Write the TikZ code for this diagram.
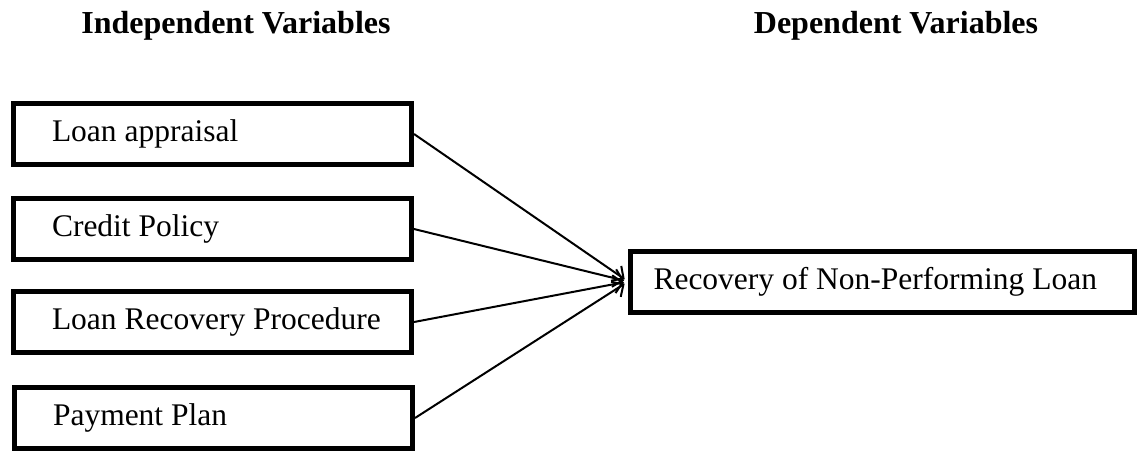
\documentclass[tikz,border=0pt]{standalone}
\usepackage{fontspec}
\setmainfont{Liberation Serif}
\usepackage{tikz}
\usetikzlibrary{arrows.meta,positioning}
\tikzset{
  var/.style={draw, line width=2.5pt, align=flush left, font=\fontsize{15.75}{19}\selectfont,
              minimum height=30.5pt, inner sep=0pt},
  ivar/.style={var, minimum width=199pt, text width=176pt,
               execute at begin node=\hspace*{7.75pt}},
  dvar/.style={var, minimum width=252pt, text width=229pt},
  head/.style={font=\fontsize{16}{19}\selectfont\bfseries},
  ar/.style={-{Straight Barb[length=4.5pt,width=9pt]}, line width=1pt, shorten >=2pt},
}
\begin{document}
\begin{tikzpicture}[x=0.5pt,y=-0.5pt]
  \useasboundingbox (0,0) rectangle (1139,451);
  % headings
  \node[head] (ih) at (236,26) {Independent Variables};
  \node[head] (dh) at (896,26) {Dependent Variables};
  % independent variables
  \node[ivar] (la) at (212.5,134) {Loan appraisal};
  \node[ivar] (cp) at (212.5,229) {Credit Policy};
  \node[ivar] (lr) at (212.5,322) {Loan Recovery Procedure};
  \node[ivar] (pp) at (213.5,418) {Payment Plan};
  % dependent variable
  \node[dvar] (rn) at (882.5,281.5) {Recovery of Non-Performing Loan};
  \draw[ar] (la.east) -- (rn.west);
  \draw[ar] (cp.east) -- (rn.west);
  \draw[ar] (lr.east) -- (rn.west);
  \draw[ar] (pp.east) -- (rn.west);
\end{tikzpicture}
\end{document}
